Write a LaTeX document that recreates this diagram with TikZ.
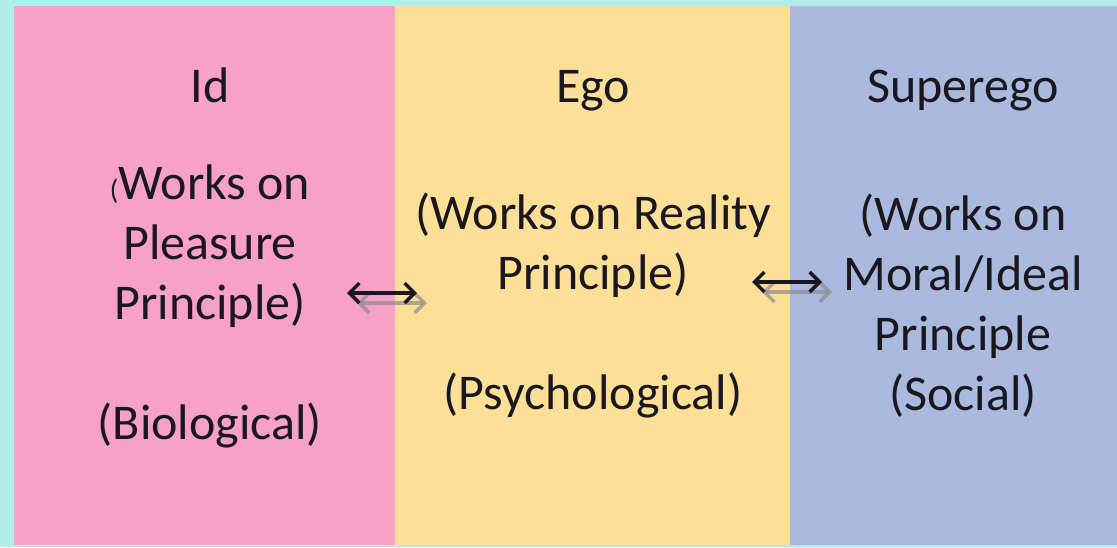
\documentclass[tikz,border=0pt]{standalone}
\usepackage{fontspec}
\setmainfont{Carlito}
\usepackage{xcolor}
\usetikzlibrary{arrows.meta,positioning}
\definecolor{lagoon}{RGB}{178,238,231}
\definecolor{idpink}{RGB}{247,160,200}
\definecolor{egoyellow}{RGB}{254,223,151}
\definecolor{superblue}{RGB}{170,185,222}
\definecolor{ink}{RGB}{26,24,30}
\begin{document}
\begin{tikzpicture}[x=1pt,y=-1pt,
  title/.style={text=ink,font=\fontsize{50}{60}\selectfont,inner sep=0pt,anchor=base},
  body/.style={text=ink,font=\fontsize{50}{60}\selectfont,align=center,inner sep=0pt},
  link/.style={{Straight Barb[length=10pt,width=20pt,line width=3.5pt]}-{Straight Barb[length=10pt,width=20pt,line width=3.5pt]},line width=4pt},
  shade/.style={link,draw=black!45,opacity=0.7}]
\useasboundingbox (0,0) rectangle (1117,547);
\fill[lagoon] (0,0) rectangle (1117,547);
% three panels
\fill[idpink] (14,6) rectangle (395,545);
\fill[egoyellow] (395,6) rectangle (790,545);
\fill[superblue] (790,6) rectangle (1117,545);
% headings
\node[title] (id) at (210,102) {Id};
\node[title] (ego) at (593,102) {Ego};
\node[title] (superego) at (963,102) {Superego};
% principles
\node[body] (idtext) at (210,306) {{\fontsize{28}{30}\selectfont(}Works on\\Pleasure\\Principle)\\[60pt](Biological)};
\node[body] (egotext) at (593,306) {(Works on Reality\\Principle)\\[60pt](Psychological)};
\node[body] (supertext) at (963,306) {(Works on\\Moral/Ideal\\Principle\\(Social)};
% double arrows with their shadows
\coordinate (ieL) at (347,293);
\coordinate (ieR) at (417,293);
\coordinate (esL) at (752,282);
\coordinate (esR) at (822,282);
\draw[shade] ([shift={(10,10)}]ieL) -- ([shift={(10,10)}]ieR);
\draw[shade] ([shift={(10,10)}]esL) -- ([shift={(10,10)}]esR);
\draw[link,draw=ink] (ieL) -- (ieR);
\draw[link,draw=ink] (esL) -- (esR);
\end{tikzpicture}
\end{document}
